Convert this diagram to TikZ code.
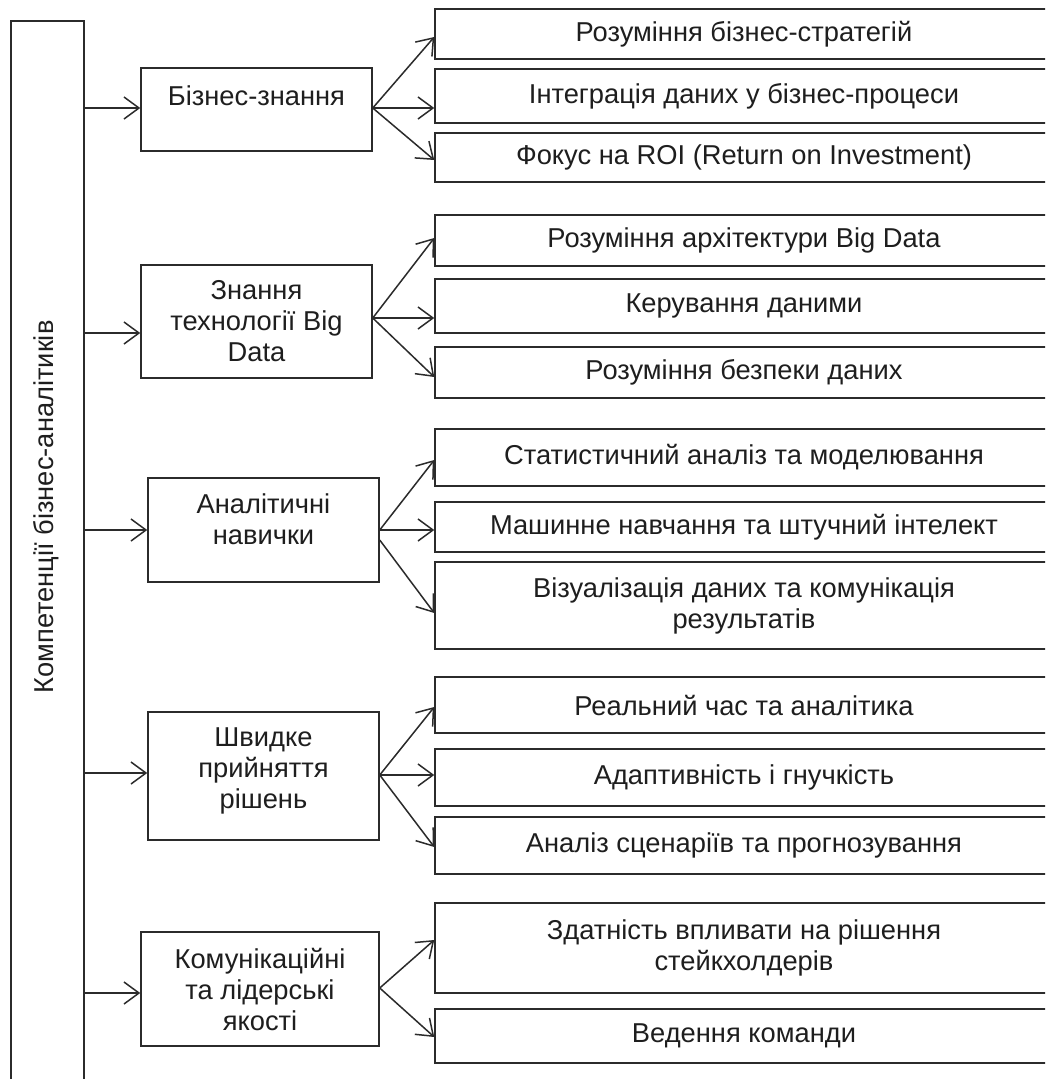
\documentclass[tikz,border=0pt]{standalone}
\usepackage{fontspec}
\setmainfont{Liberation Sans}
\usetikzlibrary{arrows.meta}
\definecolor{ln}{HTML}{2B2B2B}
\definecolor{tx}{HTML}{1E1E1E}
\begin{document}
\begin{tikzpicture}[x=1pt,y=-1pt,
  box/.style={draw=ln,line width=1.5pt,fill=white,inner sep=0pt,rectangle},
  rbox/.style={box,minimum width=618pt,text=tx,align=center,font=\fontsize{27.3}{31}\selectfont},
  lbl/.style={text=tx,align=center,inner sep=0pt,font=\fontsize{27.3}{31}\selectfont},
  arr/.style={draw=ln,line width=1.5pt,-{Straight Barb[length=15pt,width=22pt,line width=1.5pt]}}]
\clip (0,0) rectangle (1045,1079);
\fill[white] (0,0) rectangle (1045,1079);
% main column
\node[box,minimum width=73pt,minimum height=1099pt] (main) at (47.5,570.5) {};
\node[lbl,rotate=90] (maint) at (46,507) {Компетенції бізнес-аналітиків};
% middle boxes
\node[box,minimum width=231pt,minimum height=83pt] (m1) at (256.5,109.5) {};
\node[lbl] (m1t) at (256.5,96) {Бізнес-знання};
\node[box,minimum width=231pt,minimum height=113pt] (m2) at (256.5,321.5) {};
\node[lbl] (m2t) at (256.5,321) {Знання\\технології Big\\Data};
\node[box,minimum width=231pt,minimum height=104pt] (m3) at (263.5,530) {};
\node[lbl] (m3t) at (263.5,519) {Аналітичні\\навички};
\node[box,minimum width=231pt,minimum height=128pt] (m4) at (263.5,776) {};
\node[lbl] (m4t) at (263.5,771) {Швидке\\прийняття\\рішень};
\node[box,minimum width=238pt,minimum height=114pt] (m5) at (260,989) {};
\node[lbl] (m5t) at (260,989) {Комунікаційні\\та лідерські\\якості};
% right boxes
\node[rbox,minimum height=50pt] (b1) at (744,34) {Розуміння бізнес-стратегій};
\node[rbox,minimum height=54pt] (b2) at (744,96) {Інтеграція даних у бізнес-процеси};
\node[rbox,minimum height=49pt] (b3) at (744,157.5) {Фокус на ROI (Return on Investment)};
\node[rbox,minimum height=51pt] (b4) at (744,240.5) {Розуміння архітектури Big Data};
\node[rbox,minimum height=54pt] (b5) at (744,306) {Керування даними};
\node[rbox,minimum height=51pt] (b6) at (744,372.5) {Розуміння безпеки даних};
\node[rbox,minimum height=57pt] (b7) at (744,457.5) {Статистичний аналіз та моделювання};
\node[rbox,minimum height=50pt] (b8) at (744,527) {Машинне навчання та штучний інтелект};
\node[rbox,minimum height=87pt] (b9) at (744,605.5) {Візуалізація даних та комунікація\\результатів};
\node[rbox,minimum height=56pt] (b10) at (744,705) {Реальний час та аналітика};
\node[rbox,minimum height=57pt] (b11) at (744,777.5) {Адаптивність і гнучкість};
\node[rbox,minimum height=57pt] (b12) at (744,845.5) {Аналіз сценаріїв та прогнозування};
\node[rbox,minimum height=90pt] (b13) at (744,948) {Здатність впливати на рішення\\стейкхолдерів};
\node[rbox,minimum height=54pt] (b14) at (744,1036) {Ведення команди};
% trunk arrows
\draw[arr] (main.east |- 0,108) -- (m1.west |- 0,108);
\draw[arr] (main.east |- 0,333) -- (m2.west |- 0,333);
\draw[arr] (main.east |- 0,530) -- (m3.west |- 0,530);
\draw[arr] (main.east |- 0,773) -- (m4.west |- 0,773);
\draw[arr] (main.east |- 0,993) -- (m5.west |- 0,993);
% fans
\coordinate (f1) at (m1.east |- 0,108);
\draw[arr] (f1) -- (b1.west |- 0,37);
\draw[arr] (f1) -- (b2.west |- 0,108);
\draw[arr] (f1) -- (b3.west |- 0,160);
\coordinate (f2) at (m2.east |- 0,318);
\draw[arr] (f2) -- (b4.west |- 0,238);
\draw[arr] (f2) -- (b5.west |- 0,318);
\draw[arr] (f2) -- (b6.west |- 0,377);
\coordinate (f3) at (m3.east |- 0,530);
\coordinate (f3b) at (m3.east |- 0,540);
\draw[arr] (f3) -- (b7.west |- 0,460);
\draw[arr] (f3) -- (b8.west |- 0,530);
\draw[arr] (f3b) -- (b9.west |- 0,613);
\coordinate (f4) at (m4.east |- 0,775);
\draw[arr] (f4) -- (b10.west |- 0,707);
\draw[arr] (f4) -- (b11.west |- 0,775);
\draw[arr] (f4) -- (b12.west |- 0,847);
\coordinate (f5) at (m5.east |- 0,988);
\draw[arr] (f5) -- (b13.west |- 0,940);
\draw[arr] (f5) -- (b14.west |- 0,1037);
\end{tikzpicture}
\end{document}
